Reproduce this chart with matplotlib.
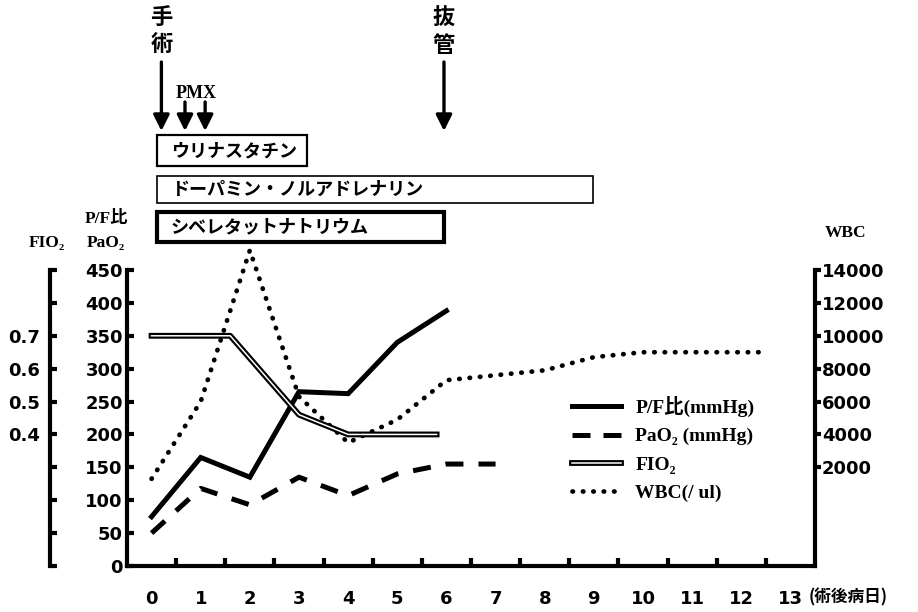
import matplotlib
matplotlib.use("Agg")
import matplotlib.pyplot as plt
from matplotlib.lines import Line2D
from matplotlib.patches import Rectangle
from matplotlib.legend_handler import HandlerTuple
from matplotlib.ticker import FixedLocator
import matplotlib.transforms as mtransforms

plt.rcParams['font.family'] = ['DejaVu Sans', 'Noto Sans CJK JP']

# post-op day series
days_pf = [0, 1, 2, 3, 4, 5, 6]
pf_ratio = [75, 165, 135, 265, 262, 340, 388]

days_pao2 = [0, 1, 2, 3, 4, 5, 6, 7]
pao2 = [50, 118, 93, 135, 107, 140, 155, 155]

days_fio2 = [0, 1.6, 3, 4, 5.8]
fio2 = [0.7, 0.7, 0.46, 0.40, 0.40]

days_wbc = [0, 1, 2, 3, 4, 5, 6, 7, 8, 9, 10, 12.5]
wbc = [1300, 6000, 15200, 6300, 3500, 4900, 7300, 7600, 7900, 8700, 9000, 9000]

x_days = list(range(0, 14))
left_ticks = [0, 50, 100, 150, 200, 250, 300, 350, 400, 450]
fio2_ticks = [0, 0.1, 0.2, 0.3, 0.4, 0.5, 0.6, 0.7, 0.8, 0.9]
fio2_labels = ['', '', '', '', '0.4', '0.5', '0.6', '0.7', '', '']
wbc_ticks = [2000, 4000, 6000, 8000, 10000, 12000, 14000]

# events (day) and drug periods (start, end)
surgery_day = 0.2
pmx_days = [0.68, 1.09]
extubation_day = 5.95
drugs = ['ウリナスタチン', 'ドーパミン・ノルアドレナリン', 'シベレタットナトリウム']
drug_start = [0.11, 0.11, 0.11]
drug_end = [3.17, 8.98, 5.95]

serif = ['Liberation Serif', 'DejaVu Serif', 'Noto Sans CJK JP']
jp = ['Noto Sans CJK JP', 'DejaVu Sans']

fig = plt.figure(figsize=(9.18, 6.12), dpi=100)
ax = fig.add_axes([127 / 918, 46 / 612, 688 / 918, 296 / 612])
ax.set_xlim(-0.5, 13.5)
ax.set_ylim(0, 450)

ax2 = ax.twinx()
ax2.set_ylim(-4000, 14000)
ax3 = ax.twinx()
ax3.set_ylim(0, 0.9)

# spines
for s in ['top', 'right']:
    ax.spines[s].set_visible(False)
for s in ['left', 'bottom']:
    ax.spines[s].set_linewidth(3)
for s in ['top', 'left', 'bottom']:
    ax2.spines[s].set_visible(False)
ax2.spines['right'].set_linewidth(3)
for s in ['top', 'right', 'bottom']:
    ax3.spines[s].set_visible(False)
ax3.spines['left'].set_visible(True)
ax3.spines['left'].set_position(('axes', -0.112))
ax3.spines['left'].set_linewidth(3)
ax3.yaxis.tick_left()

tick_font = dict(fontsize=13, fontweight='bold')

ax.set_xticks(x_days)
ax.set_xticklabels([str(d) for d in x_days], **tick_font)
ax.xaxis.set_minor_locator(FixedLocator([d + 0.5 for d in x_days[:-1]]))
ax.tick_params(axis='x', which='major', length=0, pad=17)
ax.tick_params(axis='x', which='minor', direction='in', length=6, width=3)

ax.set_yticks(left_ticks)
ax.set_yticklabels([str(v) for v in left_ticks], **tick_font)
ax.tick_params(axis='y', direction='in', length=5, width=3, pad=3)

ax2.set_yticks(wbc_ticks)
ax2.set_yticklabels([str(v) for v in wbc_ticks], **tick_font)
ax2.tick_params(axis='y', direction='out', length=4, width=3, pad=1)

ax3.set_yticks(fio2_ticks)
ax3.set_yticklabels(fio2_labels, **tick_font)
ax3.tick_params(axis='y', direction='in', length=5, width=3, pad=7)

# series
ax.plot(days_pf, pf_ratio, color='black', lw=3.6, solid_joinstyle='miter')
ax.plot(days_pao2, pao2, color='black', lw=3.6, linestyle=(0, (3.6, 3)))
ax3.plot(days_fio2, fio2, color='black', lw=4.2)
ax3.plot(days_fio2, fio2, color='white', lw=1.1)
ax2.plot(days_wbc, wbc, color='black', lw=3.4, linestyle=(0, (0.1, 2.1)),
         dash_capstyle='round', clip_on=False)

# legend
h_pf = Line2D([], [], color='black', lw=3.6)
h_pao2 = Line2D([], [], color='black', lw=3.6, linestyle=(0, (3.6, 2.6)))
h_fio2 = (Line2D([], [], color='black', lw=4.2), Line2D([], [], color='white', lw=1.1))
h_wbc = Line2D([], [], color='black', lw=3.4, linestyle=(0, (0.1, 2.1)), dash_capstyle='round')
leg = ax3.legend([h_pf, h_pao2, h_fio2, h_wbc],
                 ['P/F比(mmHg)', 'PaO₂ (mmHg)', 'FIO₂', 'WBC(/ ul)'],
                 handler_map={tuple: HandlerTuple(ndivide=1)},
                 loc='upper left', bbox_to_anchor=(572 / 918, 1 - 396 / 612),
                 bbox_transform=fig.transFigure, frameon=False,
                 handlelength=2.5, handletextpad=0.75, labelspacing=0.55,
                 borderpad=0, borderaxespad=0,
                 prop=dict(family=serif, weight='bold', size=14))

# axis titles
fig.text(47 / 918, 1 - 243 / 612, 'FIO₂', family=serif, weight='bold', fontsize=12.5,
         ha='center', va='center')
fig.text(106 / 918, 1 - 219 / 612, 'P/F比', family=serif, weight='bold', fontsize=12.5,
         ha='center', va='center')
fig.text(106 / 918, 1 - 243 / 612, 'PaO₂', family=serif, weight='bold', fontsize=12.5,
         ha='center', va='center')
fig.text(846 / 918, 1 - 233 / 612, 'WBC', family=serif, weight='bold', fontsize=12.5,
         ha='center', va='center')

trans = mtransforms.blended_transform_factory(ax.transData, fig.transFigure)
ax.text(13.38, 1 - 597 / 612, '(術後病日)', transform=trans, family=jp,
        fontweight='bold', fontsize=12, ha='left', va='center')

# event arrows
arrow = dict(arrowstyle='-|>', lw=2.4, color='black', mutation_scale=24,
             shrinkA=0, shrinkB=0)
ax.annotate('', xy=(surgery_day, 1 - 131 / 612), xytext=(surgery_day, 1 - 62 / 612),
            xycoords=trans, textcoords=trans, arrowprops=arrow, annotation_clip=False)
ax.annotate('', xy=(extubation_day, 1 - 131 / 612), xytext=(extubation_day, 1 - 62 / 612),
            xycoords=trans, textcoords=trans, arrowprops=arrow, annotation_clip=False)
for d in pmx_days:
    ax.annotate('', xy=(d, 1 - 131 / 612), xytext=(d, 1 - 102 / 612),
                xycoords=trans, textcoords=trans, arrowprops=arrow, annotation_clip=False)

ax.text(surgery_day, 1 - 31 / 612, '手\n術', transform=trans, family=jp,
        fontweight='bold', fontsize=16, ha='center', va='center', linespacing=1.2)
ax.text(extubation_day, 1 - 32 / 612, '抜\n管', transform=trans, family=jp,
        fontweight='bold', fontsize=16, ha='center', va='center', linespacing=1.2)
ax.text(0.9, 1 - 93 / 612, 'PMX', transform=trans, family=serif,
        fontweight='bold', fontsize=13, ha='center', va='center')

# drug boxes
box_top = [135, 176, 212]
box_bottom = [166, 203, 242]
box_lw = [1.6, 1.2, 3.0]
for i in range(len(drugs)):
    y0 = 1 - box_bottom[i] / 612
    h = (box_bottom[i] - box_top[i]) / 612
    r = Rectangle((drug_start[i], y0), drug_end[i] - drug_start[i], h, transform=trans,
                  facecolor='white', edgecolor='black', lw=box_lw[i], clip_on=False)
    ax.add_patch(r)
    ax.text(drug_start[i] + 0.28, y0 + h / 2, drugs[i], transform=trans, family=jp,
            fontweight='bold', fontsize=13, ha='left', va='center')

fig.savefig('out.png', dpi=100)
